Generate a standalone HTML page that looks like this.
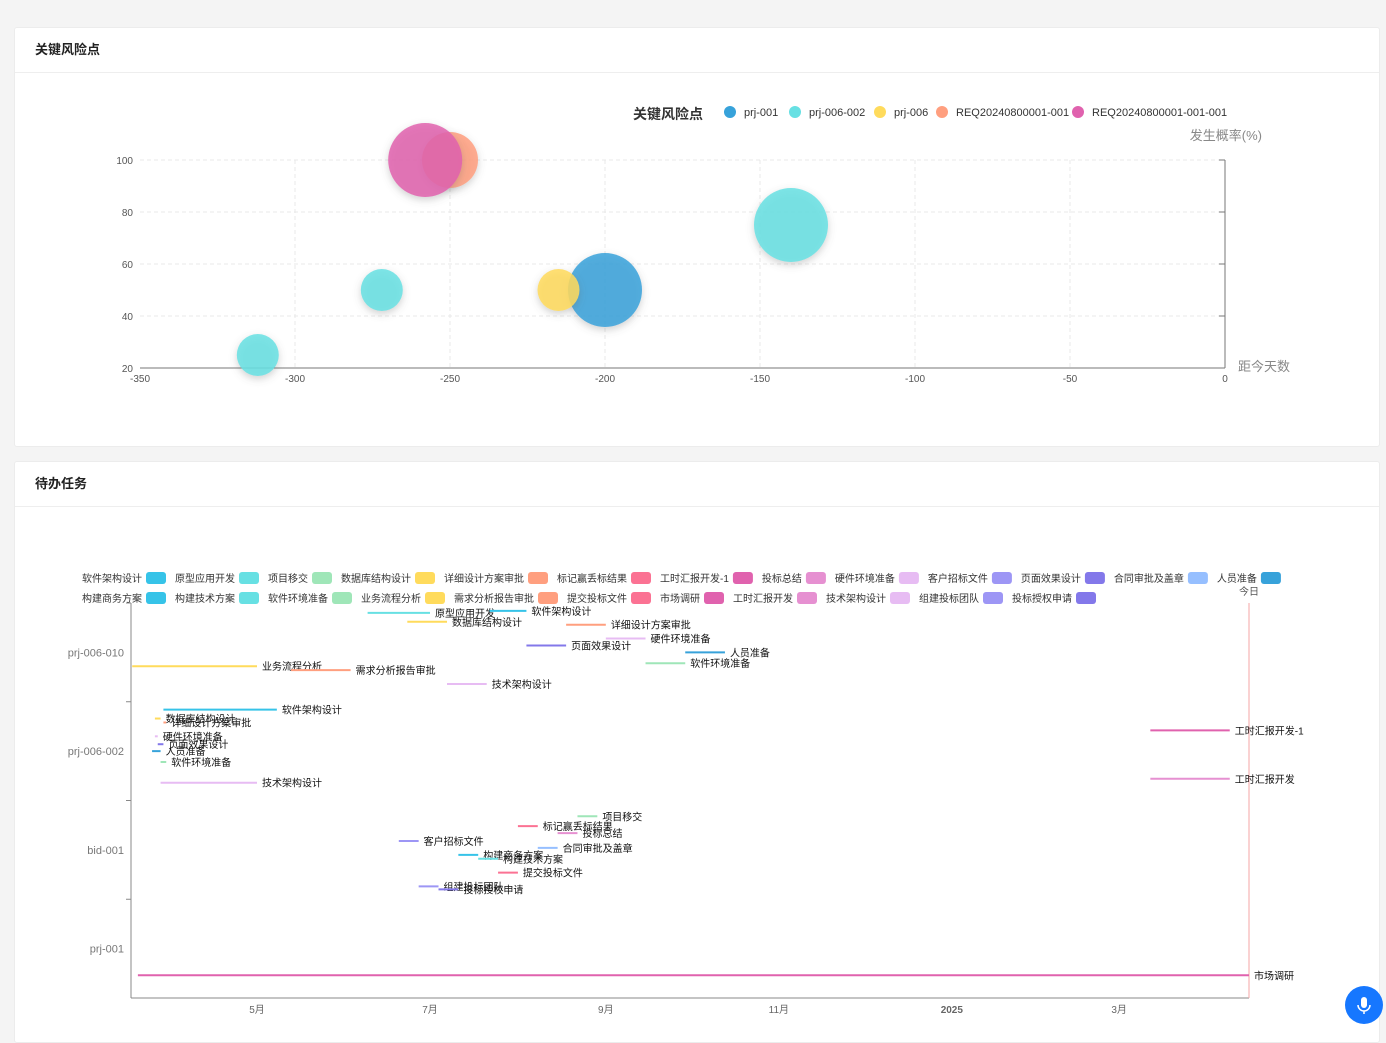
<!DOCTYPE html>
<html><head><meta charset="utf-8">
<style>
body{margin:0;background:#f4f4f4;font-family:"Liberation Sans","Noto Sans CJK SC",sans-serif;width:1386px;height:1025px;overflow:hidden;position:relative}
.card{position:absolute;left:14px;width:1364px;background:#fff;border:1px solid #ececec;border-radius:3px}
.hd{height:44px;line-height:44px;padding-left:20px;font-size:13px;font-weight:bold;color:#222;border-bottom:1px solid #eee}
svg text{font-family:"Liberation Sans","Noto Sans CJK SC",sans-serif}
.mic{position:absolute;left:1345px;top:986px;width:38px;height:38px;border-radius:50%;background:#1677ff}
</style></head><body>
<div class="card" style="top:27px;height:418px">
<div class="hd">关键风险点</div></div>
<div class="card" style="top:461px;height:580px">
<div class="hd">待办任务</div></div>
<svg id="c1" width="1386" height="1025" style="position:absolute;left:0;top:0"></svg>
<div class="mic"><svg width="38" height="38"><rect x="16" y="11" width="6" height="11" rx="3" fill="#fff"/><path d="M13 19 a6 6 0 0 0 12 0 M19 25 v3" stroke="#fff" fill="none" stroke-width="1.5"/></svg></div>
<script>
// ---- bubble chart data ----
const bubbleSeries=['prj-001','prj-006-002','prj-006','REQ20240800001-001','REQ20240800001-001-001'];
const bubbleColors=['#37a2da','#67e0e3','#ffdb5c','#ff9f7f','#e062ae'];
const bubbleDays=[-200,-140,-272,-312,-215,-250,-258];
const bubbleProb=[50,75,50,25,50,100,100];
const bubbleSize=[37,37,21,21,21,28,37];
const bubbleSer=[0,1,1,1,2,3,4];
const xTicks=[-350,-300,-250,-200,-150,-100,-50,0];
const yTicks=[20,40,60,80,100];
// ---- gantt data ----
const rows=['prj-001','bid-001','prj-006-002','prj-006-010'];
const legendNames=[['软件架构设计','原型应用开发','项目移交','数据库结构设计','详细设计方案审批','标记赢丢标结果','工时汇报开发-1','投标总结','硬件环境准备','客户招标文件','页面效果设计','合同审批及盖章','人员准备'],
['构建商务方案','构建技术方案','软件环境准备','业务流程分析','需求分析报告审批','提交投标文件','市场调研','工时汇报开发','技术架构设计','组建投标团队','投标授权申请']];
const legendColors=[['#36c3e8','#67e0e3','#9fe6b8','#ffdb5c','#ff9f7f','#fb7293','#e062ae','#e690d1','#e7bcf3','#9d96f5','#8378ea','#96bfff','#37a2da'],
['#36c3e8','#67e0e3','#9fe6b8','#ffdb5c','#ff9f7f','#fb7293','#e062ae','#e690d1','#e7bcf3','#9d96f5','#8378ea']];
const taskNames=['原型应用开发','软件架构设计','数据库结构设计','详细设计方案审批','硬件环境准备','页面效果设计','人员准备','软件环境准备','业务流程分析','需求分析报告审批','技术架构设计',
'软件架构设计','数据库结构设计','详细设计方案审批','硬件环境准备','页面效果设计','人员准备','软件环境准备','技术架构设计','工时汇报开发-1','工时汇报开发',
'项目移交','标记赢丢标结果','投标总结','客户招标文件','合同审批及盖章','构建商务方案','构建技术方案','提交投标文件','组建投标团队','投标授权申请','市场调研'];
const taskColors=['#67e0e3','#36c3e8','#ffdb5c','#ff9f7f','#e7bcf3','#8378ea','#37a2da','#9fe6b8','#ffdb5c','#ff9f7f','#e7bcf3',
'#36c3e8','#ffdb5c','#ff9f7f','#e7bcf3','#8378ea','#37a2da','#9fe6b8','#e7bcf3','#e062ae','#e690d1',
'#9fe6b8','#fb7293','#e690d1','#9d96f5','#96bfff','#36c3e8','#67e0e3','#fb7293','#9d96f5','#8378ea','#e062ae'];
const taskRow=[3,3,3,3,3,3,3,3,3,3,3,2,2,2,2,2,2,2,2,2,2,1,1,1,1,1,1,1,1,1,1,0];
const taskSlot=[0.10,0.08,0.19,0.22,0.36,0.43,0.50,0.61,0.64,0.68,0.82,0.08,0.17,0.21,0.35,0.43,0.50,0.61,0.82,0.29,0.78,0.16,0.26,0.33,0.41,0.48,0.55,0.59,0.73,0.87,0.90,0.77];
const taskStart=[39,82,53,109,123,95,151,137,-44,12,67,-33,-36,-33,-36,-35,-37,-34,-34,315,315,113,92,106,50,99,71,78,85,57,64,-42];
const taskEnd=[61,95,67,123,137,109,165,151,0,33,81,7,-34,-32,-35,-33,-34,-32,0,343,343,120,99,113,57,106,78,85,92,64,71,350];
const monthTicks=['5月','7月','9月','11月','2025','3月'];
const monthDays=[0,61,123,184,245,304];

const NS='http://www.w3.org/2000/svg';
const svg=document.getElementById('c1');
function mk(t,a,p){const e=document.createElementNS(NS,t);for(const k in a)e.setAttribute(k,a[k]);(p||svg).appendChild(e);return e;}
function tx(x,y,s,a){const e=mk('text',Object.assign({x:x,y:y},a));e.textContent=s;return e;}
// defs
const defs=mk('defs',{});const f=mk('filter',{id:'sh',x:'-50%',y:'-50%',width:'200%',height:'200%'},defs);
mk('feDropShadow',{dx:0,dy:3,stdDeviation:4,'flood-color':'#666','flood-opacity':0.35},f);

// bubble chart axes
const bx=d=>140+(d+350)/350*1085;
const by=v=>368-(v-20)/80*208;
yTicks.forEach(v=>{
 if(v>20){const g=mk('line',{x1:140,x2:1225,y1:by(v),y2:by(v),stroke:'#e8e8e8','stroke-dasharray':'4,3'});}
 const t=tx(133,by(v)+4,v,{'font-size':10,fill:'#555','text-anchor':'end'});
});
xTicks.forEach(v=>{
 if(v>-350&&v<0){const g=mk('line',{x1:bx(v),x2:bx(v),y1:160,y2:368,stroke:'#e8e8e8','stroke-dasharray':'4,3'});}
 const t=tx(bx(v),382,v,{'font-size':10,fill:'#555','text-anchor':'middle'});
});
mk('line',{x1:140,x2:1225,y1:368,y2:368,stroke:'#777'});
mk('line',{x1:1225,x2:1225,y1:160,y2:368,stroke:'#777'});
yTicks.forEach(v=>mk('line',{x1:1219,x2:1225,y1:by(v),y2:by(v),stroke:'#777'}));
let t=tx(1262,140,'发生概率(%)',{'font-size':13,fill:'#888','text-anchor':'end'});
t=tx(1238,371,'距今天数',{'font-size':13,fill:'#888'});
t=tx(633,119,'关键风险点',{'font-size':14,'font-weight':'bold',fill:'#333'});
const lgX=[730,795,880,942,1078];
bubbleSeries.forEach((s,i)=>{
 const g=mk('g',{});
 mk('circle',{cx:lgX[i],cy:112,r:6,fill:bubbleColors[i]},g);
 tx(lgX[i]+14,116,s,{'font-size':11,fill:'#333'},g);
});
bubbleDays.forEach((d,i)=>{
 const c=mk('circle',{cx:bx(d),cy:by(bubbleProb[i]),r:bubbleSize[i],fill:bubbleColors[bubbleSer[i]],'fill-opacity':0.85,filter:'url(#sh)'});
 
});

// gantt
const gx=d=>257+d*2.836;
const L=131,R=1249,T=603,B=998,band=(B-T)/rows.length;
// legend
legendNames.forEach((row,ri)=>{
 let x=82;const y=578+ri*20;
 row.forEach((n,i)=>{
  const g=mk('g',{});
  const te=tx(x,y+4,n,{'font-size':10,fill:'#333'},g);
  const w=te.getComputedTextLength();
  mk('rect',{x:x+w+4,y:y-6,width:20,height:12,rx:3,fill:legendColors[ri][i]},g);
  x+=w+4+20+9;
 });
});
mk('line',{x1:L,x2:L,y1:T,y2:B,stroke:'#888'});
mk('line',{x1:L,x2:R,y1:B,y2:B,stroke:'#888'});
rows.forEach((r,i)=>{
 const yb=B-i*band;
 mk('line',{x1:L-5,x2:L,y1:yb-band,y2:yb-band,stroke:'#888'});
 const t=tx(124,yb-band/2+4,r,{'font-size':11,fill:'#777','text-anchor':'end'});
});
monthTicks.forEach((m,i)=>{
 const t=tx(gx(monthDays[i]),1013,m,{'font-size':10,fill:'#666','text-anchor':'middle','font-weight':m==='2025'?'bold':'normal'});
 
});
// today line
const tl=mk('line',{x1:R,x2:R,y1:603,y2:998,stroke:'#f4a6a6'});
t=tx(R,595,'今日',{'font-size':10,fill:'#555','text-anchor':'middle'});
taskNames.forEach((n,i)=>{
 const y=B-(taskRow[i]+1)*band+taskSlot[i]*band;
 const x1=gx(taskStart[i]),x2=Math.min(gx(taskEnd[i]),R);
 const ln=mk('line',{x1:x1,x2:x2,y1:y,y2:y,stroke:taskColors[i],'stroke-width':2});
 
 const t=tx(x2+5,y+4,n,{'font-size':10,fill:'#111'});
 
});
</script>
</body></html>
